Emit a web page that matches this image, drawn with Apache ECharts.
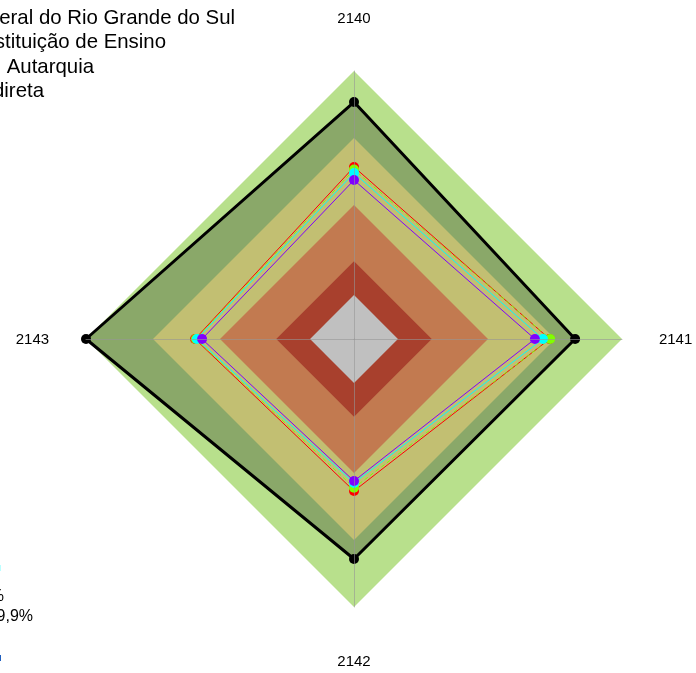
<!DOCTYPE html>
<html>
<head>
<meta charset="utf-8">
<script src="https://cdn.jsdelivr.net/npm/echarts@6/dist/echarts.min.js"></script>
<style>html,body{margin:0;padding:0;background:#fff}#c{width:696px;height:673px}</style>
</head>
<body>
<div id="c"></div>
<script>
// Axes (in clockwise order starting at top)
var categories = ['2140', '2141', '2142', '2143'];
var axisMax = 100;
// Reference bands (outer to inner)
var bandValues = [100, 75, 50, 29, 16.4];
var bandColors = ['#B8E08C', '#C2BF72', '#C27A50', '#A8402D', '#C0C0C0'];
// Black reference polygon
var blackValues = [88.4, 82.5, 82.1, 100];
// Data series (rainbow colours)
var seriesNames = ['S1', 'S2', 'S3', 'S4'];
var seriesColors = ['#FF0000', '#80FF00', '#00FFFF', '#8000FF'];
var seriesValues = [
  [64.2, 73.0, 56.7, 59.3],
  [63.2, 73.2, 55.5, 59.0],
  [61.9, 70.5, 53.7, 58.6],
  [59.3, 67.5, 53.0, 56.7]
];
// Legend texts (partially outside the canvas)
var legendTop = ['Universidade Federal do Rio Grande do Sul', 'Instituição de Ensino', 'Natureza Jurídica: Autarquia', 'Administração Indireta'];
var legendBottom = ['Percentil 95%', 'Percentil 99,9%'];

var CX = 354, CY = 339, R = 268;
// ECharts goes counter-clockwise: reorder to top, left, bottom, right
var order = [0, 3, 2, 1];
function ord(arr) { return order.map(function (i) { return arr[i]; }); }
function full(v) { return categories.map(function () { return v; }); }

var series = [];
// outer band
series.push({ type: 'radar', radarIndex: 0, symbol: 'none', silent: true,
  lineStyle: { width: 0 }, areaStyle: { color: bandColors[0], opacity: 1 },
  data: [{ value: ord(full(bandValues[0])) }] });
// black polygon shading
series.push({ type: 'radar', radarIndex: 0, symbol: 'none', silent: true,
  lineStyle: { width: 0 }, areaStyle: { color: 'rgba(0,0,0,0.25)', opacity: 1 },
  data: [{ value: ord(blackValues) }] });
for (var b = 1; b < bandValues.length; b++) {
  series.push({ type: 'radar', radarIndex: 0, symbol: 'none', silent: true,
    lineStyle: { width: 0 }, areaStyle: { color: bandColors[b], opacity: 1 },
    data: [{ value: ord(full(bandValues[b])) }] });
}
series.push({ type: 'radar', radarIndex: 0, symbol: 'circle', symbolSize: 10,
  lineStyle: { width: 3, color: '#000' }, itemStyle: { color: '#000' },
  data: [{ value: ord(blackValues), name: 'ref' }] });
var dashes = ['solid', [4, 3], 'solid', 'solid'];
for (var s = 0; s < seriesValues.length; s++) {
  series.push({ type: 'radar', radarIndex: 0, name: seriesNames[s], symbol: 'circle', symbolSize: 10,
    lineStyle: { width: 1, color: seriesColors[s], type: dashes[s] }, itemStyle: { color: seriesColors[s] },
    data: [{ value: ord(seriesValues[s]), name: seriesNames[s] }] });
}

var graphics = [];
var cats = ord(categories);
cats.forEach(function (c, i) {
  var ang = Math.PI / 2 + i * 2 * Math.PI / cats.length;
  graphics.push({ type: 'text', x: CX + 1.2 * R * Math.cos(ang), y: CY - 1.2 * R * Math.sin(ang) + 1,
    style: { text: c, fill: '#000', font: '15px "Liberation Sans", Arial, sans-serif', align: 'center', verticalAlign: 'middle' } });
});
var topRight = [235, 166, 94, 44];
legendTop.forEach(function (t, i) {
  graphics.push({ type: 'text', x: topRight[i], y: 18 + i * 24.6,
    style: { text: t, fill: '#000', font: '20.4px "Liberation Sans", Arial, sans-serif', align: 'right', verticalAlign: 'middle' } });
});
var botRight = [4, 33];
legendBottom.forEach(function (t, i) {
  graphics.push({ type: 'text', x: botRight[i], y: 597 + i * 20,
    style: { text: t, fill: '#000', font: '16px "Liberation Sans", Arial, sans-serif', align: 'right', verticalAlign: 'middle' } });
});
graphics.push({ type: 'rect', shape: { x: -8, y: 565, width: 9, height: 6 }, style: { fill: '#bff' } });
graphics.push({ type: 'rect', shape: { x: -8, y: 655, width: 9, height: 6 }, style: { fill: '#1f5fbf' } });

var chart = echarts.init(document.getElementById('c'));
chart.setOption({
  animation: false,
  backgroundColor: '#fff',
  radar: {
    center: [CX, CY], radius: R, shape: 'polygon', startAngle: 90, z: 10,
    indicator: cats.map(function (c) { return { name: c, min: 0, max: axisMax }; }),
    axisName: { show: false },
    splitNumber: 4,
    splitLine: { show: false },
    splitArea: { show: false },
    axisLine: { show: true, lineStyle: { color: 'rgba(150,150,150,0.6)', width: 1 } },
    axisTick: { show: false }, axisLabel: { show: false }
  },
  graphic: graphics,
  series: series
});
</script>
</body>
</html>
